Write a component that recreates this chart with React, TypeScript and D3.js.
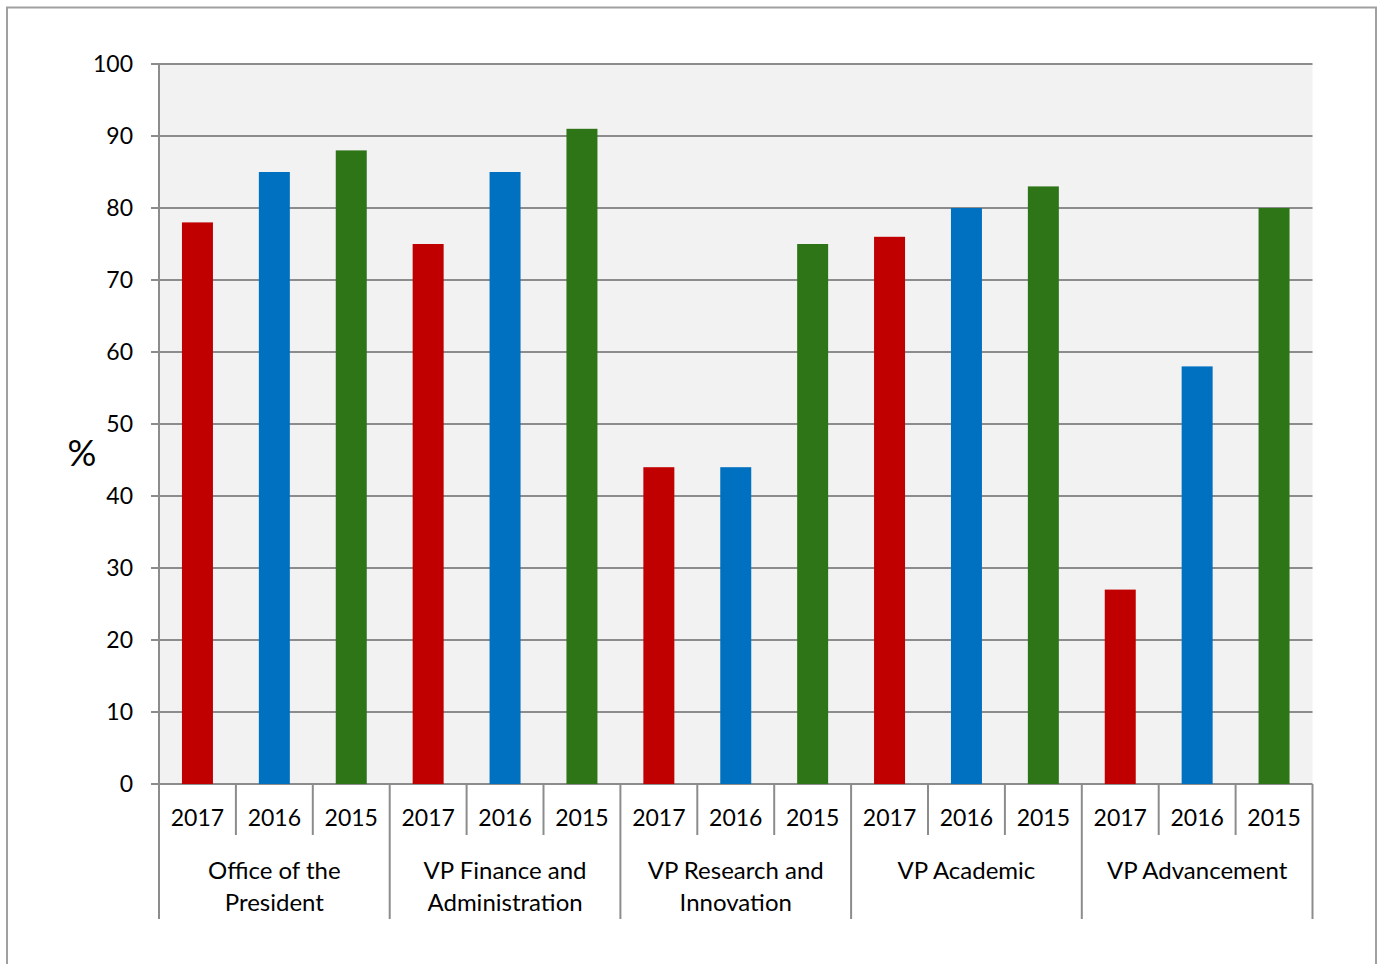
import React from "react";
import * as d3 from "d3";

const groups = [
  ["Office of the", "President"],
  ["VP Finance and", "Administration"],
  ["VP Research and", "Innovation"],
  ["VP Academic"],
  ["VP Advancement"],
];
const years = ["2017", "2016", "2015"];
const values2017 = [78, 75, 44, 76, 27];
const values2016 = [85, 85, 44, 80, 58];
const values2015 = [88, 91, 75, 83, 80];
const yTicks = [0, 10, 20, 30, 40, 50, 60, 70, 80, 90, 100];
const colors = ["#C00000", "#0070C0", "#2E7518"];

const W = 1377;
const H = 964;
const left = 159;
const right = 1312.5;
const top = 64;
const bottom = 784;
const FONT = "Lato, 'Open Sans', sans-serif";
const GRID = "#8C8C8C";

export default function App() {
  const series = [values2017, values2016, values2015];
  const groupIdx = groups.map((_, i) => String(i));
  const x0 = d3.scaleBand<string>().domain(groupIdx).range([left, right]).padding(0);
  const xSlot = d3.scaleBand<string>().domain(years).range([0, x0.bandwidth()]).padding(0);
  const x1 = d3
    .scaleBand<string>()
    .domain(years)
    .range([0, x0.bandwidth()])
    .paddingInner(0.597)
    .paddingOuter(0.2985);
  const y = d3.scaleLinear().domain([0, 100]).range([bottom, top]);

  return (
    <svg
      width={W}
      height={H}
      style={{ position: "absolute", left: 0, top: 0, background: "#fff" }}
      fontFamily={FONT}
    >
      <rect x={7} y={7.5} width={1369} height={H + 10} fill="#fff" stroke="#A0A0A0" strokeWidth={2} />
      <rect x={left} y={top} width={right - left} height={bottom - top} fill="#F2F2F2" />
      {yTicks.map((t) => (
        <g key={t}>
          <line x1={151} x2={right} y1={y(t)} y2={y(t)} stroke={GRID} strokeWidth={2} />
          <text
            x={133}
            y={y(t) - 1}
            textAnchor="end"
            dominantBaseline="central"
            fontSize={23}
            fill="#000"
          >
            {t}
          </text>
        </g>
      ))}
      <line x1={left} x2={left} y1={top - 1} y2={919} stroke={GRID} strokeWidth={2} />
      <text x={82} y={452} textAnchor="middle" dominantBaseline="central" fontSize={36} fill="#000">
        %
      </text>
      {groupIdx.map((g, gi) => (
        <g key={g}>
          {years.map((yr, si) => {
            const v = series[si][gi];
            const bx = (x0(g) as number) + (x1(yr) as number);
            return (
              <rect
                key={yr}
                x={bx}
                y={y(v)}
                width={x1.bandwidth()}
                height={y(0) - y(v)}
                fill={colors[si]}
              />
            );
          })}
        </g>
      ))}
      {groupIdx.map((g, gi) => {
        const gx = x0(g) as number;
        return (
          <g key={"lab" + g}>
            {years.map((yr, si) => {
              const sx = gx + (xSlot(yr) as number);
              return (
                <g key={yr}>
                  {si > 0 && (
                    <line x1={sx} x2={sx} y1={bottom} y2={835} stroke={GRID} strokeWidth={2} />
                  )}
                  <text
                    x={sx + xSlot.bandwidth() / 2}
                    y={817}
                    textAnchor="middle"
                    dominantBaseline="central"
                    fontSize={23}
                    fill="#000"
                  >
                    {yr}
                  </text>
                </g>
              );
            })}
            <line
              x1={gx + x0.bandwidth()}
              x2={gx + x0.bandwidth()}
              y1={bottom}
              y2={919}
              stroke={GRID}
              strokeWidth={2}
            />
            {groups[gi].map((line, li) => (
              <text
                key={li}
                x={gx + x0.bandwidth() / 2}
                y={869 + li * 32}
                textAnchor="middle"
                dominantBaseline="central"
                fontSize={24}
                fill="#000"
              >
                {line}
              </text>
            ))}
          </g>
        );
      })}
    </svg>
  );
}
